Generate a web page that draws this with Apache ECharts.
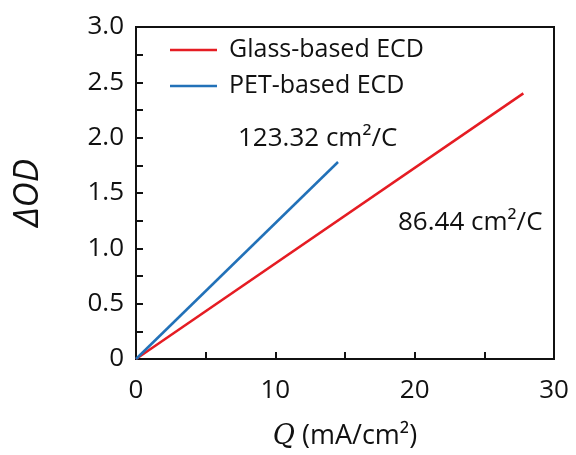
<!DOCTYPE html>
<html>
<head>
<meta charset="utf-8">
<script src="https://cdn.jsdelivr.net/npm/echarts@6/dist/echarts.min.js"></script>
<style>
  html, body { margin: 0; padding: 0; background: #fff; }
  #chart { width: 576px; height: 455px; }
</style>
</head>
<body>
<div id="chart"></div>
<script>
// data
const seriesNames = ['Glass-based ECD', 'PET-based ECD']
const glassData = [[0, 0], [27.8, 2.40]]
const petData = [[0, 0], [14.5, 1.78]]
const slopeLabels = ['86.44 cm²/C', '123.32 cm²/C']
const xTicks = [0, 10, 20, 30]
const yTicks = [0, 0.5, 1.0, 1.5, 2.0, 2.5, 3.0]

const font = 'Open Sans'
const chart = echarts.init(document.getElementById('chart'))
chart.setOption({
  animation: false,
  grid: {
    left: 136,
    right: 22,
    top: 27,
    bottom: 94,
    show: true,
    borderColor: '#111',
    borderWidth: 2,
  },
  legend: {
    left: 165,
    top: 31,
    orient: 'vertical',
    itemGap: 8,
    itemWidth: 47,
    itemHeight: 2.5,
    icon: 'rect',
    textStyle: { fontFamily: font, fontSize: 25, lineHeight: 28, color: '#111', padding: [0, 0, 0, 7] },
    data: seriesNames,
  },
  xAxis: {
    type: 'value',
    min: xTicks[0],
    max: xTicks[xTicks.length - 1],
    interval: 10,
    name: '{q|Q} (mA/cm²)',
    nameLocation: 'middle',
    nameGap: 64,
    nameTextStyle: {
      fontFamily: font,
      fontSize: 27,
      color: '#111',
      rich: {
        q: { fontFamily: 'DejaVu Serif', fontStyle: 'italic', fontSize: 27, color: '#111' },
      },
    },
    axisLine: { lineStyle: { color: '#111', width: 2 } },
    axisTick: { inside: true, length: 7, lineStyle: { color: '#111', width: 2 } },
    minorTick: { show: true, splitNumber: 2, length: 7, lineStyle: { color: '#111', width: 2 } },
    axisLabel: { fontFamily: font, fontSize: 26, color: '#111', margin: 19 },
    splitLine: { show: false },
  },
  yAxis: {
    type: 'value',
    min: yTicks[0],
    max: yTicks[yTicks.length - 1],
    interval: 0.5,
    name: 'ΔOD',
    nameLocation: 'middle',
    nameGap: 90,
    nameTextStyle: { fontFamily: font, fontSize: 35, fontStyle: 'italic', color: '#111' },
    axisLine: { lineStyle: { color: '#111', width: 2 } },
    axisTick: { inside: true, length: 7, lineStyle: { color: '#111', width: 2 } },
    minorTick: { show: true, splitNumber: 2, length: 7, lineStyle: { color: '#111', width: 2 } },
    axisLabel: {
      fontFamily: font,
      fontSize: 26,
      color: '#111',
      margin: 12,
      formatter: function (v) {
        return v === 0 ? '0' : v.toFixed(1)
      },
    },
    splitLine: { show: false },
  },
  graphic: [
    {
      type: 'text',
      left: 398,
      top: 210,
      style: { text: slopeLabels[0], fontFamily: font, fontSize: 26, fill: '#111' },
    },
    {
      type: 'text',
      left: 238,
      top: 126,
      style: { text: slopeLabels[1], fontFamily: font, fontSize: 26, fill: '#111' },
    },
  ],
  series: [
    {
      name: seriesNames[0],
      type: 'line',
      data: glassData,
      showSymbol: false,
      color: '#e51c23',
      lineStyle: { width: 2.5, color: '#e51c23' },
    },
    {
      name: seriesNames[1],
      type: 'line',
      data: petData,
      showSymbol: false,
      color: '#2271b8',
      lineStyle: { width: 2.5, color: '#2271b8' },
    },
  ],
})
</script>
</body>
</html>
